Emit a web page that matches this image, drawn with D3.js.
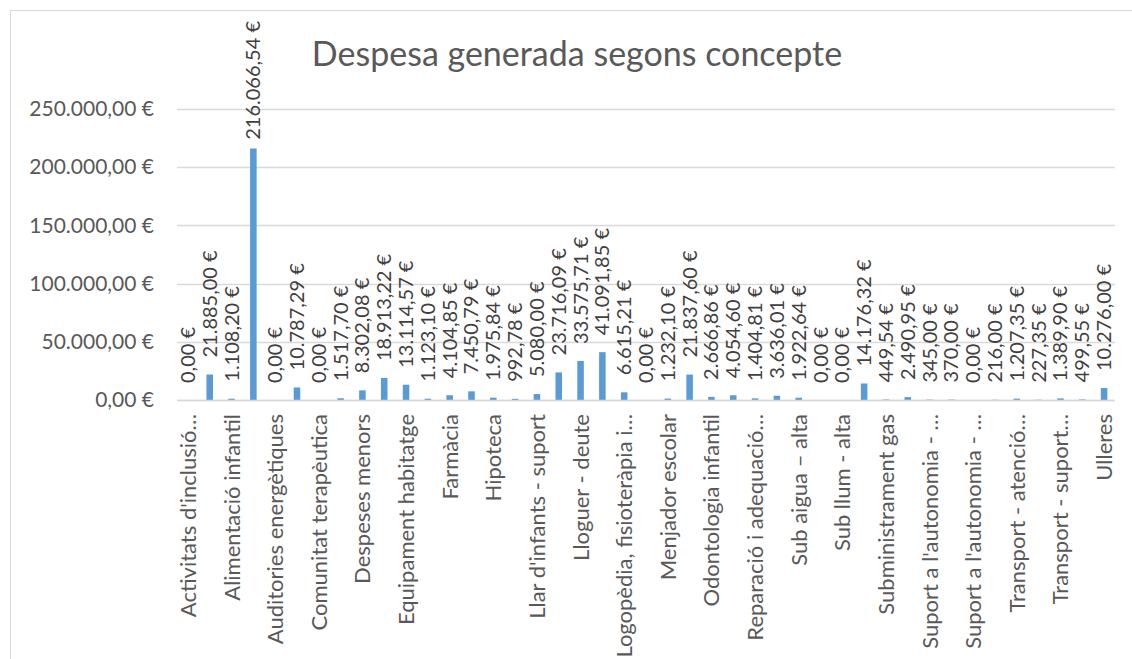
<!DOCTYPE html>
<html>
<head>
<meta charset="utf-8">
<script src="https://cdn.jsdelivr.net/npm/d3@7"></script>
<style>
body { margin: 0; background: #fff; }
text { font-family: Lato, "Open Sans", sans-serif; }
</style>
</head>
<body>
<svg id="chart" width="1132" height="659"></svg>
<script>
// one value per concept, alphabetical order (43 concepts)
var values = [
    0.00, 21885.00, 1108.20, 216066.54, 0.00, 10787.29, 0.00, 1517.70,
    8302.08, 18913.22, 13114.57, 1123.10, 4104.85, 7450.79, 1975.84, 992.78,
    5080.00, 23716.09, 33575.71, 41091.85, 6615.21, 0.00, 1232.10, 21837.60,
    2666.86, 4054.60, 1404.81, 3636.01, 1922.64, 0.00, 0.00, 14176.32,
    449.54, 2490.95, 345.00, 370.00, 0.00, 216.00, 1207.35, 227.35,
    1389.90, 499.55, 10276.00
];

// only every second concept gets a label on the axis
var shownLabels = [
    "Activitats d'inclusió…", "Alimentació infantil", "Auditories energètiques",
    "Comunitat terapèutica", "Despeses menors", "Equipament habitatge", "Farmàcia",
    "Hipoteca", "Llar d'infants - suport", "Lloguer - deute",
    "Logopèdia, fisioteràpia i…", "Menjador escolar", "Odontologia infantil",
    "Reparació i adequació…", "Sub aigua – alta", "Sub llum - alta",
    "Subministrament gas", "Suport a l'autonomia - …", "Suport a l'autonomia - …",
    "Transport - atenció…", "Transport - suport…", "Ulleres"
];

var yTicks = [0, 50000, 100000, 150000, 200000, 250000];
var title = "Despesa generada segons concepte";

var locale = d3.formatLocale({
    decimal: ",",
    thousands: ".",
    grouping: [3],
    currency: ["", " €"]
});
var euro = locale.format("$,.2f");

var svg = d3.select("#chart");

var plotLeft = 177, plotRight = 1115, plotTop = 109, plotBottom = 400;

svg.append("rect")
    .attr("x", 10.5)
    .attr("y", 10.5)
    .attr("width", 1140)
    .attr("height", 660)
    .attr("fill", "none")
    .attr("stroke", "#d9d9d9");

var x = d3.scaleBand()
    .domain(d3.range(values.length))
    .range([plotLeft, plotRight])
    .paddingInner(0.7)
    .paddingOuter(0.35);

var y = d3.scaleLinear()
    .domain([0, 250000])
    .range([plotBottom, plotTop]);

svg.append("text")
    .attr("x", 577)
    .attr("y", 66)
    .attr("text-anchor", "middle")
    .attr("fill", "#595959")
    .attr("font-size", 34)
    .text(title);

// gridlines
svg.selectAll(".grid")
    .data(yTicks)
    .enter()
    .append("line")
    .attr("class", "grid")
    .attr("x1", plotLeft)
    .attr("x2", plotRight)
    .attr("y1", function(d) { return Math.round(y(d)) + 0.5 })
    .attr("y2", function(d) { return Math.round(y(d)) + 0.5 })
    .attr("stroke", "#d9d9d9")
    .attr("stroke-width", 1.3);

// y axis labels
var yAxis = d3.axisLeft(y)
    .tickValues(yTicks)
    .tickSize(0)
    .tickPadding(23)
    .tickFormat(euro);

svg.append("g")
    .attr("transform", "translate(" + plotLeft + ",0)")
    .call(yAxis)
    .call(function(g) { g.select(".domain").remove() })
    .selectAll("text")
    .attr("font-family", "Lato, sans-serif")
    .attr("font-size", 21)
    .attr("fill", "#595959");

// bars
svg.selectAll(".bar")
    .data(values)
    .enter()
    .append("rect")
    .attr("class", "bar")
    .attr("x", function(d, i) { return x(i) })
    .attr("width", x.bandwidth())
    .attr("y", function(d) { return y(d) })
    .attr("height", function(d) { return plotBottom - y(d) })
    .attr("fill", "#5b9bd5");

// data labels, rotated
var labels = svg.selectAll(".val")
    .data(values)
    .enter()
    .append("text")
    .attr("class", "val")
    .attr("font-size", 20)
    .attr("fill", "#404040")
    .text(function(d) { return euro(d) });

labels.each(function(d, i) {
    var len = this.getComputedTextLength();
    var cx = x(i) + x.bandwidth() / 2;
    var by = Math.max(y(d) - 17, 21 + len);
    d3.select(this)
        .attr("transform", "translate(" + (cx + 7) + "," + by + ") rotate(-90)");
});

// x axis line
svg.append("line")
    .attr("x1", plotLeft)
    .attr("x2", plotRight)
    .attr("y1", plotBottom + 0.5)
    .attr("y2", plotBottom + 0.5)
    .attr("stroke", "#d9d9d9")
    .attr("stroke-width", 1.3);

// category labels, every second one
svg.selectAll(".cat")
    .data(shownLabels)
    .enter()
    .append("text")
    .attr("class", "cat")
    .attr("font-size", 22)
    .attr("fill", "#595959")
    .attr("text-anchor", "end")
    .attr("transform", function(d, i) {
        var cx = x(i * 2) + x.bandwidth() / 2;
        return "translate(" + (cx + 8) + "," + (plotBottom + 14) + ") rotate(-90)";
    })
    .text(function(d) { return d });
</script>
</body>
</html>
